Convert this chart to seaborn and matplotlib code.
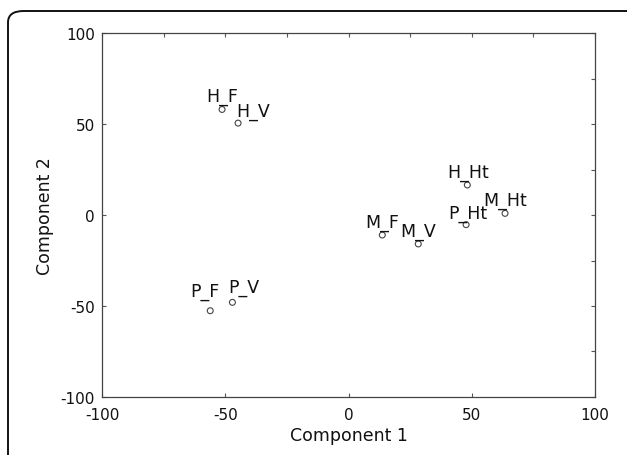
import matplotlib
matplotlib.use("Agg")
import matplotlib.pyplot as plt
import seaborn as sns
import pandas as pd
from matplotlib.patches import FancyBboxPatch
from matplotlib.ticker import MultipleLocator

labels = ["H_F", "H_V", "P_F", "P_V", "H_Ht", "M_Ht", "P_Ht", "M_F", "M_V"]
comp1 = [-51.3, -44.8, -56.1, -47.1, 48.2, 63.5, 47.7, 13.7, 28.3]
comp2 = [58.0, 50.5, -52.6, -48.0, 16.5, 0.9, -5.3, -11.0, -15.9]
# label offsets (points) relative to marker
label_dx = [0, 10.5, -3.5, 8, 0.5, 0, 1, 0, 0]
label_dy = [6.5, 5, 10.5, 7.5, 6, 6, 5, 6, 6]

df = pd.DataFrame({"Component 1": comp1, "Component 2": comp2, "label": labels})

sns.set_theme(style="white")
plt.rcParams['font.family'] = ['DejaVu Sans']
plt.rcParams['axes.unicode_minus'] = False

fig = plt.figure(figsize=(6.27, 4.56), dpi=100)
ax = fig.add_axes([0.1627, 0.1272, 0.7863, 0.7982])

# rounded frame around figure
frame = FancyBboxPatch((8 / 627, -0.2), 1.2, 1.2 - 12 / 456,
                       boxstyle="round,pad=0,rounding_size=0.025",
                       transform=fig.transFigure, fill=False,
                       edgecolor="#111111", linewidth=1.4, clip_on=False)
fig.patches.append(frame)

sns.scatterplot(data=df, x="Component 1", y="Component 2", ax=ax,
                marker="o", s=18, facecolor="none", edgecolor="#444444",
                linewidth=0.8, legend=False)

for lab, x, y, dx, dy in zip(labels, comp1, comp2, label_dx, label_dy):
    ax.annotate(lab, (x, y), xytext=(dx, dy), textcoords="offset points",
                ha="center", va="baseline", fontsize=12.5, color="#111111")

ax.set_xlim(-100, 100)
ax.set_ylim(-100, 100)
ax.xaxis.set_major_locator(MultipleLocator(50))
ax.yaxis.set_major_locator(MultipleLocator(50))
ax.xaxis.set_minor_locator(MultipleLocator(25))
ax.yaxis.set_minor_locator(MultipleLocator(25))
ax.tick_params(which="major", direction="in", length=3, width=0.8,
               left=True, bottom=True, top=True, right=True,
               labelsize=11, colors="#555555", labelcolor="#111111", pad=5)
ax.tick_params(axis="x", which="major", pad=7)
ax.tick_params(which="minor", direction="in", length=3, width=0.8,
               left=False, bottom=False, top=True, right=True, colors="#555555")
for sp in ax.spines.values():
    sp.set_color("#444444")
    sp.set_linewidth(0.9)

ax.set_xlabel("Component 1", fontsize=12.5, color="#111111", labelpad=3)
ax.set_ylabel("Component 2", fontsize=12.5, color="#111111", labelpad=5)

fig.savefig("out.png", dpi=100)
